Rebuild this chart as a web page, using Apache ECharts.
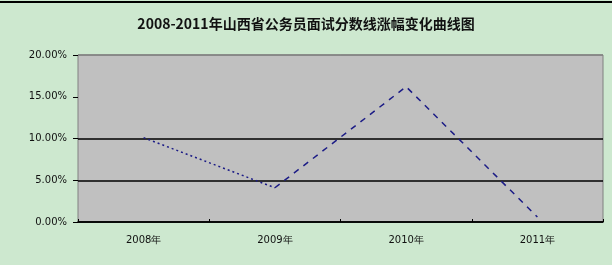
<!DOCTYPE html>
<html>
<head>
<meta charset="utf-8">
<script src="https://cdn.jsdelivr.net/npm/echarts@6/dist/echarts.min.js"></script>
<style>
	html, body { margin: 0; padding: 0; background: #fff; }
	#chart { width: 612px; height: 265px; }
</style>
</head>
<body>
<div id="chart"></div>
<script>
	'use strict';

	var years = ['2008年', '2009年', '2010年', '2011年'];
	var rates = [10.1, 4.1, 16.2, 0.6];
	var yTicks = [0, 5, 10, 15, 20];

	// first segment dotted, the rest dashed
	var dottedPart = [rates[0], rates[1], null, null];
	var dashedPart = [null, rates[1], rates[2], rates[3]];

	var chart = echarts.init(document.getElementById('chart'));

	var option = {
		backgroundColor: '#cde8cf',
		animation: false,
		title: {
			text: '2008-2011年山西省公务员面试分数线涨幅变化曲线图',
			left: 'center',
			top: 11,
			textStyle: {
				fontFamily: 'Noto Sans CJK SC',
				fontSize: 14,
				fontWeight: 'bold',
				color: '#111',
				lineHeight: 16
			}
		},
		graphic: [{
			type: 'line',
			shape: { x1: 0, y1: 2, x2: 612, y2: 2 },
			style: { stroke: '#000', lineWidth: 2 }
		}],
		grid: {
			left: 78,
			right: 9,
			top: 55,
			bottom: 43,
			show: true,
			backgroundColor: '#c0c0c0',
			borderColor: '#808080',
			borderWidth: 1
		},
		xAxis: {
			type: 'category',
			data: years,
			boundaryGap: true,
			axisLine: { lineStyle: { color: '#000', width: 1.5 } },
			axisTick: { show: true, inside: true, length: 3, lineStyle: { color: '#000' } },
			axisLabel: {
				fontFamily: 'DejaVu Sans',
				fontSize: 10,
				color: '#111',
				margin: 13
			}
		},
		yAxis: {
			type: 'value',
			min: yTicks[0],
			max: yTicks[yTicks.length - 1],
			interval: 5,
			axisLine: { show: false },
			axisTick: { show: true, length: 5, lineStyle: { color: '#000' } },
			splitLine: {
				lineStyle: {
					color: ['#000', '#000', '#000', 'rgba(0,0,0,0)', '#808080'],
					width: 1.5
				}
			},
			axisLabel: {
				fontFamily: 'DejaVu Sans',
				fontSize: 10,
				color: '#111',
				margin: 11,
				formatter: function (v) { return v.toFixed(2) + '%'; }
			}
		},
		series: [
			{
				name: 'dotted',
				type: 'line',
				data: dottedPart,
				symbol: 'none',
				connectNulls: false,
				lineStyle: { color: '#1c1c86', width: 1.5, type: [2, 3] }
			},
			{
				name: 'dashed',
				type: 'line',
				data: dashedPart,
				symbol: 'none',
				connectNulls: false,
				lineStyle: { color: '#1c1c86', width: 1.5, type: [6, 6] }
			}
		]
	};
	chart.setOption(option);
</script>
</body>
</html>
